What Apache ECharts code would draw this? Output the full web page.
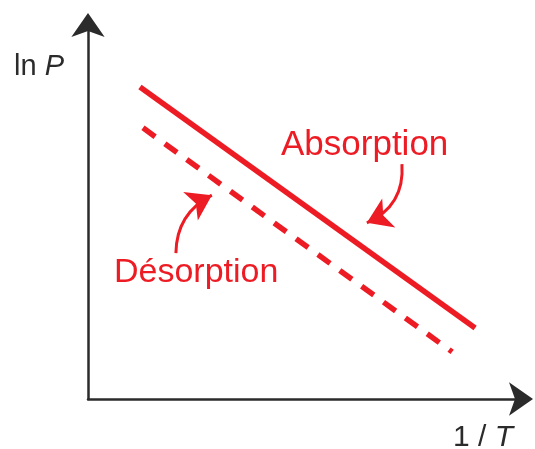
<!DOCTYPE html>
<html>
<head>
<meta charset="utf-8">
<script src="https://cdn.jsdelivr.net/npm/echarts@6/dist/echarts.min.js"></script>
<style>
  html, body { margin: 0; padding: 0; background: #fff; }
  #chart { width: 535px; height: 449px; }
</style>
</head>
<body>
<div id="chart"></div>
<script>
// 数据（坐标轴 0-100 的相对刻度）
var absorptionX = [12.0, 89.4];
var absorptionY = [83.4, 19.0];
var desorptionX = [12.7, 84.1];
var desorptionY = [72.5, 12.6];

// 标注箭头：起点 -> 终点
var absArrowFrom = [72.5, 62.8];
var absArrowTo = [64.4, 47.1];
var desArrowFrom = [20.3, 39.0];
var desArrowTo = [28.6, 54.5];

var red = '#ed1c24';
var axisColor = '#2b2b2b';
var font = 'Liberation Sans';

function pairs(xs, ys) {
  return xs.map(function (x, i) { return [x, ys[i]]; });
}

var chart = echarts.init(document.getElementById('chart'));

var axisLine = {
  show: true, symbol: ['none', 'arrow'], symbolSize: [25, 24], symbolOffset: [0, 12],
  lineStyle: { color: axisColor, width: 2.5 }
};

var option = {
  animation: false,
  grid: { left: 88, right: 14, top: 25, bottom: 50 },
  xAxis: {
    type: 'value', min: 0, max: 100, axisLine: axisLine,
    axisTick: { show: false }, axisLabel: { show: false }, splitLine: { show: false }
  },
  yAxis: {
    type: 'value', min: 0, max: 100, axisLine: axisLine,
    axisTick: { show: false }, axisLabel: { show: false }, splitLine: { show: false }
  },
  series: [
    {
      type: 'line', data: pairs(absorptionX, absorptionY), showSymbol: false,
      lineStyle: { color: red, width: 5.5, cap: 'butt' }
    },
    {
      type: 'line', data: pairs(desorptionX, desorptionY), showSymbol: false,
      lineStyle: { color: red, width: 5.5, type: [15, 12], cap: 'butt' }
    },
    {
      type: 'lines', coordinateSystem: 'cartesian2d',
      symbol: ['none', 'arrow'], symbolSize: 24,
      lineStyle: { color: red, width: 3, opacity: 1 },
      data: [
        { coords: [absArrowFrom, absArrowTo], lineStyle: { curveness: 0.35 } },
        { coords: [desArrowFrom, desArrowTo], lineStyle: { curveness: 0.3 } }
      ]
    }
  ],
  graphic: [
    {
      type: 'text', left: 14, top: 52,
      style: {
        text: 'ln {i|P}', fill: axisColor, font: '29px ' + font,
        rich: { i: { fontStyle: 'italic', fontSize: 29, fontFamily: font, fill: axisColor } }
      }
    },
    {
      type: 'text', left: 453, top: 423,
      style: {
        text: '1 / {i|T}', fill: axisColor, font: '30px ' + font,
        rich: { i: { fontStyle: 'italic', fontSize: 30, fontFamily: font, fill: axisColor } }
      }
    },
    {
      type: 'text', left: 281, top: 128,
      style: { text: 'Absorption', fill: red, font: '35px ' + font }
    },
    {
      type: 'text', left: 114, top: 256,
      style: { text: 'Désorption', fill: red, font: '34px ' + font }
    }
  ]
};

chart.setOption(option);
</script>
</body>
</html>
